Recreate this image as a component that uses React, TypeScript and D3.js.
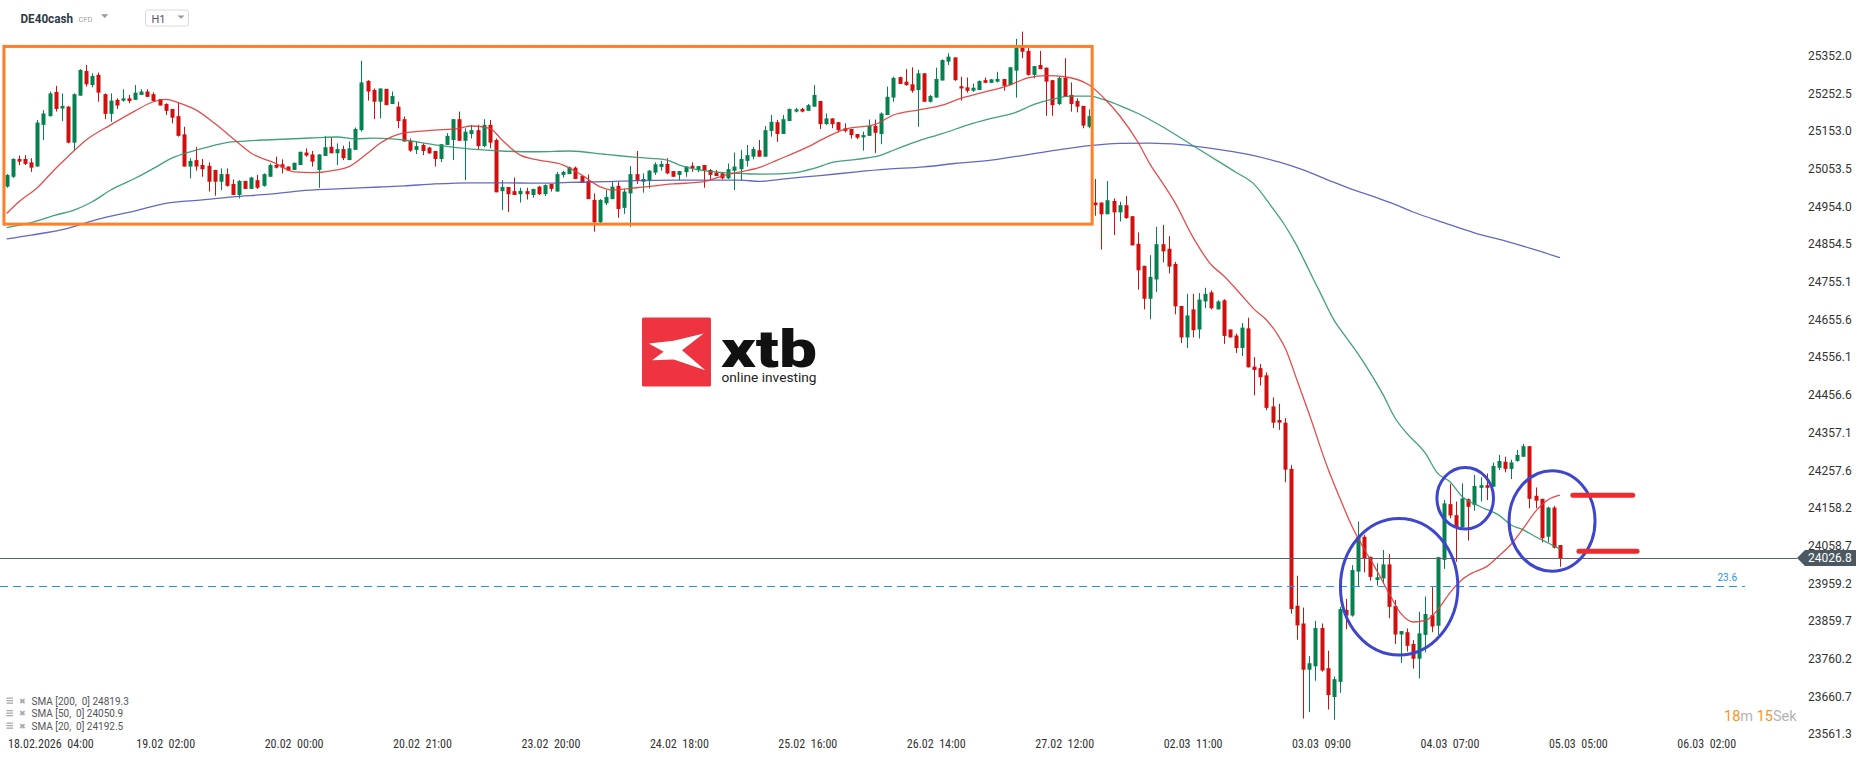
import React from "react";
import * as d3 from "d3";

const W = 1866;
const H = 761;

// ---------- candle data (H1, DE40cash) ----------
const opens = [
  25007,25033,25080,25080,25071,25060,25170,25193,25257,25213,
  25218,25123,25247,25312,25275,25302,25251,25199,25236,25234,
  25240,25236,25249,25258,25251,25238,25225,25212,25193,25145,
  25060,25077,25064,25062,25051,25020,25040,25014,24985,25022,
  25001,25024,25009,25033,25064,25066,25060,25051,25064,25097,
  25092,25051,25088,25112,25095,25106,25077,25104,25156,25286,
  25262,25231,25265,25225,25218,25185,25127,25104,25117,25110,
  25101,25080,25117,25130,25185,25128,25146,25156,25114,25170,
  25130,24995,25006,24995,24987,24995,24985,25007,24987,25014,
  24994,25038,25040,25057,25035,25022,24972,24913,24963,24974,
  25009,24951,24989,25040,25020,25022,25044,25059,25067,25048,
  25038,25045,25062,25051,25064,25051,25044,25042,25029,25049,
  25053,25075,25086,25103,25086,25154,25177,25146,25180,25205,
  25212,25207,25218,25233,25172,25187,25177,25161,25159,25146,
  25137,25141,25167,25146,25196,25242,25296,25284,25277,25262,
  25306,25231,25242,25287,25337,25348,25272,25269,25260,25262,
  25288,25281,25284,25291,25275,25313,25374,25365,25302,25328,
  25321,25288,25225,25294,25249,25233,25220,25165,24965,24965,
  24934,24969,24939,24958,24929,24856,24798,24711,24762,24855,
  24843,24803,24692,24609,24683,24630,24704,24728,24683,24707,
  24630,24614,24581,24633,24532,24528,24509,24427,24391,24384,
  24262,23901,23854,23732,23741,23842,23736,23660,23700,23890,
  23875,23991,24083,24030,23969,23973,24010,23900,23825,23831,
  23800,23761,23824,23876,23848,24022,24169,24140,24108,24182,
  24167,24212,24219,24215,24265,24281,24262,24283,24294,24322,
  24191,24183,24083,24160,24061,
];
const highs = [
  25040,25082,25089,25090,25082,25183,25209,25258,25273,25253,
  25220,25253,25317,25328,25306,25308,25253,25253,25240,25264,
  25249,25275,25264,25264,25256,25238,25227,25212,25229,25165,
  25082,25112,25080,25071,25051,25055,25055,25026,25024,25022,
  25033,25038,25042,25068,25086,25079,25060,25070,25099,25108,
  25101,25092,25141,25137,25121,25115,25126,25163,25339,25288,
  25266,25266,25265,25258,25231,25192,25134,25126,25121,25112,
  25101,25119,25148,25185,25205,25161,25170,25170,25185,25183,
  25134,25024,25006,25031,25004,25004,25001,25009,25013,25014,
  25046,25049,25060,25060,25035,25039,24989,24974,24998,25020,
  25020,25001,25061,25101,25042,25051,25071,25075,25082,25048,
  25048,25061,25071,25061,25064,25053,25051,25046,25068,25097,
  25104,25117,25112,25130,25167,25196,25183,25196,25213,25215,
  25215,25225,25275,25233,25200,25187,25178,25174,25159,25146,
  25152,25184,25184,25203,25271,25297,25297,25317,25322,25315,
  25306,25249,25321,25343,25359,25348,25297,25295,25279,25287,
  25295,25291,25310,25291,25322,25397,25416,25374,25325,25365,
  25321,25288,25297,25346,25282,25240,25220,25211,25027,24965,
  25022,24976,24967,24982,24929,24886,24798,24826,24901,24906,
  24876,24808,24692,24724,24724,24726,24740,24733,24707,24710,
  24630,24619,24647,24661,24557,24539,24517,24451,24434,24396,
  24272,23980,23896,23768,23861,23854,23782,23714,23898,23919,
  24008,24123,24088,24030,24013,24048,24037,23916,23834,23841,
  23810,23885,23925,23951,24030,24180,24222,24176,24224,24184,
  24246,24240,24250,24279,24299,24294,24286,24312,24328,24322,
  24213,24183,24162,24164,24061,
];
const lows = [
  25004,25030,25064,25064,25046,25060,25130,25192,25205,25180,
  25121,25101,25247,25271,25269,25231,25185,25178,25212,25231,
  25227,25236,25249,25243,25231,25221,25196,25174,25139,25060,
  25029,25049,25033,24994,24983,24998,25007,24985,24976,25001,
  25001,25001,25007,25033,25055,25042,25049,25051,25064,25086,
  25060,25004,25088,25095,25064,25077,25077,25104,25152,25234,
  25185,25187,25222,25225,25161,25126,25099,25093,25090,25093,
  25060,25072,25117,25077,25128,25024,25134,25104,25111,25108,
  24992,24945,24940,24985,24965,24973,24978,24985,24982,24994,
  24994,25031,25040,25027,25017,24974,24888,24910,24958,24974,
  24925,24935,24901,25014,24991,25002,25038,25049,25040,25033,
  25024,25033,25046,25045,25004,25026,25035,25026,25027,24998,
  25023,25060,25079,25086,25086,25139,25125,25146,25180,25203,
  25203,25207,25218,25159,25170,25161,25150,25150,25134,25133,
  25102,25141,25096,25119,25196,25231,25278,25273,25255,25165,
  25231,25229,25242,25287,25328,25286,25234,25255,25257,25262,
  25280,25280,25282,25260,25275,25242,25346,25300,25293,25317,
  25194,25194,25222,25244,25205,25203,25161,25161,24930,24841,
  24934,24879,24915,24922,24852,24735,24683,24657,24729,24807,
  24778,24670,24594,24581,24609,24606,24686,24683,24683,24592,
  24609,24568,24560,24530,24456,24482,24417,24370,24365,24227,
  23880,23811,23603,23620,23703,23727,23627,23600,23671,23839,
  23872,23951,23989,23967,23954,23960,23868,23800,23750,23780,
  23735,23709,23778,23831,23824,23998,24132,24017,24105,24073,
  24152,24176,24180,24215,24259,24253,24235,24281,24294,24158,
  24158,24068,24068,24052,24004,
];
const closes = [
  25038,25080,25073,25067,25057,25176,25200,25253,25212,25220,
  25123,25251,25315,25277,25299,25255,25199,25234,25221,25240,
  25233,25255,25258,25244,25233,25221,25207,25189,25141,25060,
  25075,25060,25053,25020,25020,25040,25009,24985,25022,25001,
  25031,25004,25040,25064,25057,25057,25049,25070,25099,25089,
  25073,25092,25111,25095,25106,25082,25108,25159,25282,25258,
  25231,25266,25222,25246,25180,25126,25102,25114,25101,25095,
  25080,25119,25141,25185,25128,25152,25156,25114,25170,25123,
  24992,25006,24987,24985,24996,24987,25001,24987,25011,25001,
  25040,25046,25058,25027,25017,24974,24913,24972,24980,25007,
  24948,24994,25040,25022,25027,25049,25066,25067,25042,25033,
  25048,25060,25055,25061,25049,25038,25035,25029,25053,25060,
  25080,25090,25106,25086,25156,25178,25146,25185,25212,25211,
  25205,25222,25249,25172,25187,25172,25156,25154,25143,25136,
  25143,25167,25149,25200,25244,25294,25278,25275,25260,25306,
  25231,25246,25291,25341,25350,25288,25266,25260,25268,25286,
  25281,25290,25291,25273,25322,25374,25363,25302,25325,25317,
  25284,25222,25294,25244,25225,25218,25168,25193,24958,24934,
  24971,24939,24958,24924,24852,24786,24711,24769,24855,24836,
  24796,24691,24609,24667,24628,24709,24724,24686,24704,24613,
  24609,24581,24635,24530,24523,24504,24423,24384,24384,24260,
  23892,23849,23732,23749,23842,23730,23665,23707,23892,23875,
  23995,24083,24024,23977,23976,24010,23898,23825,23834,23795,
  23761,23828,23879,23846,24029,24171,24139,24108,24184,24162,
  24217,24219,24212,24270,24283,24262,24279,24299,24322,24183,
  24178,24079,24160,24054,24026.8,
];

// ---------- moving averages ----------
const sma20Idx = [1,3,6,9,11,14,18,22,25,27,29,32,35,38,41,45,48,51,55,57,60,62,64,66,71,75,77,80,82,85,88,92,95,98,100,104,110,115,118,121,124,127,132,135,138,143,146,150,154,157,160,165,168,171,174,178,181,183,186,188,190,192,195,198,200,203,205,207,209,210,212,214,217,219,221,223,225,227,229,231,233,235,237,239,241,243,245,247,249,251,253,255];
const sma20Val = [24936,24967,25004,25055,25086,25130,25170,25207,25231,25237,25229,25209,25174,25134,25095,25068,25046,25044,25051,25060,25095,25121,25139,25149,25156,25161,25167,25161,25130,25090,25077,25064,25038,25007,24998,25004,25014,25020,25035,25046,25057,25077,25112,25137,25158,25171,25196,25209,25222,25240,25253,25275,25294,25300,25297,25275,25231,25194,25124,25065,25017,24966,24873,24800,24772,24719,24683,24655,24612,24583,24496,24406,24265,24185,24110,24050,23995,23935,23880,23858,23862,23890,23935,23970,23990,24004,24032,24063,24105,24150,24180,24192.5];

const sma50Idx = [1,5,9,12,15,18,22,25,28,31,34,37,40,43,46,49,53,55,58,61,64,66,71,77,82,88,93,99,104,109,111,115,118,122,125,130,133,136,140,144,146,150,154,159,162,166,169,172,175,178,181,183,186,190,195,199,202,205,208,210,212,214,216,218,220,222,224,226,228,230,233,235,237,239,242,245,247,249,251,253,255];
const sma50Val = [24899,24912,24932,24945,24967,24998,25029,25055,25082,25099,25112,25123,25127,25130,25132,25134,25137,25138,25133,25135,25133,25130,25117,25106,25101,25099,25101,25092,25084,25077,25064,25049,25044,25041,25040,25044,25055,25071,25079,25090,25103,25127,25147,25174,25187,25203,25224,25238,25246,25246,25233,25221,25200,25165,25115,25075,25045,25013,24950,24905,24850,24785,24720,24656,24610,24565,24515,24460,24397,24355,24303,24250,24228,24189,24162,24140,24114,24101,24083,24067,24050.9];

const sma200Idx = [1,5,11,16,22,27,33,38,44,49,55,62,66,71,77,82,88,93,99,104,110,115,121,124,129,134,140,145,151,156,162,167,173,178,183,188,193,198,204,209,213,217,221,225,228,231,236,241,246,251,255];
const sma200Val = [24869,24879,24897,24921,24943,24963,24972,24980,24987,24996,25001,25006,25009,25014,25017,25017,25016,25018,25020,25023,25024,25024,25024,25021,25029,25036,25046,25053,25059,25068,25077,25089,25104,25115,25121,25122,25118,25108,25092,25072,25051,25025,25000,24978,24960,24940,24912,24885,24864,24840,24819.3];

// ---------- axes ----------
const yTicks = [25352.0,25252.5,25153.0,25053.5,24954.0,24854.5,24755.1,24655.6,24556.1,24456.6,24357.1,24257.6,24158.2,24058.7,23959.2,23859.7,23760.2,23660.7,23561.3];
const xLabels = ["18.02.2026  04:00","19.02  02:00","20.02  00:00","20.02  21:00","23.02  20:00","24.02  18:00","25.02  16:00","26.02  14:00","27.02  12:00","02.03  11:00","03.03  09:00","04.03  07:00","05.03  05:00","06.03  02:00"];
const xLabelIdx = [6,27,48,69,90,111,132,153,174,195,216,237,258,279];

// ---------- annotations ----------
const lastPrice = 24026.8;
const fibLevel = 23954;
const fibLabel = "23.6";
const rangeBoxIdx = [0.55, 178.5];
const rangeBoxPrice = [25377, 24908];
const circleIdx = [228.7, 239.5, 253.7];
const circlePrice = [23951, 24184.5, 24124.6];
const circleRadIdx = [9.6, 4.63, 7.03];
const circleRadPrice = [180, 81, 132.5];
const levelPrices = [24192.5, 24045];
const levelIdxFrom = [257.1, 258.1];
const levelIdxTo = [266.9, 267.6];
const legendRows = [
  { name: "SMA [200,  0]", value: "24819.3" },
  { name: "SMA [50,  0]", value: "24050.9" },
  { name: "SMA [20,  0]", value: "24192.5" },
];

const BULL = "#05804f";
const BEAR = "#d20f0f";
const FONT = "Roboto, 'Noto Sans', sans-serif";

export default function App() {
  const x = d3.scaleLinear().domain([1, 255]).range([6.7, 1560]);
  const y = d3.scaleLinear().domain([25352, 23561.3]).range([55.9, 734.4]);
  const pxPerIdx = x(2) - x(1);
  const pxPerPt = Math.abs(y(0) - y(1));

  const line = d3
    .line<[number, number]>()
    .x((d) => x(d[0]))
    .y((d) => y(d[1]))
    .curve(d3.curveMonotoneX);

  const s20 = line(sma20Idx.map((d, i) => [d, sma20Val[i]]) as [number, number][]) || "";
  const s50 = line(sma50Idx.map((d, i) => [d, sma50Val[i]]) as [number, number][]) || "";
  const s200 = line(sma200Idx.map((d, i) => [d, sma200Val[i]]) as [number, number][]) || "";

  const candles = opens.map((o, i) => ({ i: i + 1, o, h: highs[i], l: lows[i], c: closes[i] }));
  const bodyW = 4;
  const yLast = y(lastPrice);

  return (
    <svg
      width={W}
      height={H}
      viewBox={`0 0 ${W} ${H}`}
      style={{ position: "absolute", left: 0, top: 0, display: "block", background: "#fff" }}
      fontFamily={FONT}
    >
      <rect x={0} y={0} width={W} height={H} fill="#fff" />

      {/* header */}
      <text x={20.5} y={23} fontSize={12} fontWeight={700} fill="#2c3a48" textLength={52.5} lengthAdjust="spacingAndGlyphs">DE40cash</text>
      <text x={78.5} y={22} fontSize={7.5} fill="#9aa1a8">CFD</text>
      <path d="M101,14.2 L108.5,14.2 L104.75,18 Z" fill="#9a9a9a" />
      <rect x={145.5} y={10} width={43} height={16} rx={2} fill="#fff" stroke="#d9d9d9" />
      <text x={151.5} y={22.5} fontSize={11} fill="#556">H1</text>
      <path d="M177.5,15.5 L184.5,15.5 L181,18.8 Z" fill="#9a9a9a" />

      {/* xtb watermark */}
      <g>
        <rect x={642} y={317.5} width={69} height={69} rx={1.5} fill="#ef3441" />
        <polygon
          points={[[6.7,26],[31.7,23.3],[61.7,16],[40,32.7],[63.3,52.7],[31.7,42],[10,42.7],[21.7,34.3]]
            .map((p) => `${642 + p[0]},${317.5 + p[1]}`)
            .join(" ")}
          fill="#fff"
        />
        <text x={721} y={366.5} fontSize={52} fontWeight={900} fill="#111" textLength={96} lengthAdjust="spacingAndGlyphs">xtb</text>
        <text x={721.5} y={381.5} fontSize={13.5} fill="#222" textLength={95} lengthAdjust="spacingAndGlyphs">online investing</text>
      </g>

      {/* candles */}
      <g>
        {candles.map((d) => {
          const cx = Math.round(x(d.i)) + 0.5;
          const col = d.c >= d.o ? BULL : BEAR;
          const top = y(Math.max(d.o, d.c));
          const bot = y(Math.min(d.o, d.c));
          return (
            <g key={d.i}>
              <line x1={cx} x2={cx} y1={y(d.h)} y2={y(d.l)} stroke={col} strokeWidth={1} />
              <rect x={cx - bodyW / 2} y={top} width={bodyW} height={Math.max(1, bot - top)} fill={col} />
            </g>
          );
        })}
      </g>

      {/* moving averages */}
      <path d={s200} fill="none" stroke="#5158bd" strokeWidth={1.3} strokeOpacity={0.9} />
      <path d={s50} fill="none" stroke="#2c976c" strokeWidth={1.3} strokeOpacity={0.9} />
      <path d={s20} fill="none" stroke="#e23a3a" strokeWidth={1.3} strokeOpacity={0.9} />

      {/* consolidation box */}
      <rect
        x={x(rangeBoxIdx[0])}
        y={y(rangeBoxPrice[0])}
        width={x(rangeBoxIdx[1]) - x(rangeBoxIdx[0])}
        height={y(rangeBoxPrice[1]) - y(rangeBoxPrice[0])}
        fill="none"
        stroke="#ff7f27"
        strokeWidth={3}
      />

      {/* current price line */}
      <line x1={0} x2={1797} y1={Math.round(yLast) + 0.5} y2={Math.round(yLast) + 0.5} stroke="#56616b" strokeWidth={1} />

      {/* fib level */}
      <line x1={0} x2={1745} y1={Math.round(y(fibLevel)) + 0.5} y2={Math.round(y(fibLevel)) + 0.5} stroke="#1e90ff" strokeWidth={1} strokeDasharray="8 5" />
      <text x={1737} y={y(fibLevel) - 5} fontSize={10} fill="#1e90ff" textAnchor="end">{fibLabel}</text>

      {/* circles */}
      {circleIdx.map((ci, k) => (
        <ellipse
          key={k}
          cx={x(ci)}
          cy={y(circlePrice[k])}
          rx={circleRadIdx[k] * pxPerIdx}
          ry={circleRadPrice[k] * pxPerPt}
          fill="none"
          stroke="#3d46cc"
          strokeWidth={3}
        />
      ))}

      {/* level marks */}
      {levelPrices.map((p, k) => (
        <line
          key={k}
          x1={x(levelIdxFrom[k])}
          x2={x(levelIdxTo[k])}
          y1={y(p)}
          y2={y(p)}
          stroke="#ee2a2d"
          strokeWidth={5}
          strokeLinecap="round"
        />
      ))}

      {/* y axis labels */}
      {yTicks.map((t) => (
        <text key={t} x={1808} y={y(t)} fontSize={12} fill="#333" dominantBaseline="central">
          {t.toFixed(1)}
        </text>
      ))}

      {/* last price tag */}
      <path
        d={`M1797,${yLast} L1805,${yLast - 8} L1856,${yLast - 8} L1856,${yLast + 8} L1805,${yLast + 8} Z`}
        fill="#4b5862"
      />
      <text x={1808} y={yLast} fontSize={12} fill="#fff" dominantBaseline="central">{lastPrice.toFixed(1)}</text>

      {/* x axis labels */}
      {xLabels.map((lab, k) => {
        const first = k === 0;
        return (
          <text
            key={lab}
            x={first ? 8 : x(xLabelIdx[k])}
            y={744}
            fontSize={12}
            fill="#333"
            textAnchor={first ? "start" : "middle"}
            dominantBaseline="central"
            style={{ whiteSpace: "pre", fontFamily: "'Liberation Sans Narrow', 'Roboto Condensed', Roboto, sans-serif" }}
          >
            {lab}
          </text>
        );
      })}

      {/* legend */}
      {legendRows.map((r, k) => {
        const cy = 701 + k * 12.5;
        return (
          <g key={r.name}>
            <rect x={6.5} y={cy - 3.5} width={6.5} height={1.3} fill="#a9a9a9" />
            <rect x={6.5} y={cy - 1} width={6.5} height={1.3} fill="#a9a9a9" />
            <rect x={6.5} y={cy + 1.5} width={6.5} height={1.3} fill="#a9a9a9" />
            <text x={19} y={cy} fontSize={8} fill="#a9a9a9" dominantBaseline="central" fontFamily="DejaVu Sans">✖</text>
            <text x={31.5} y={cy} fontSize={10} fill="#555" dominantBaseline="central" style={{ whiteSpace: "pre" }}>
              {r.name} {r.value}
            </text>
          </g>
        );
      })}

      {/* countdown */}
      <text x={1724} y={720.5} fontSize={14.5}>
        <tspan fill="#f7941d">18</tspan>
        <tspan fill="#b3b3b3">m </tspan>
        <tspan fill="#f7941d">15</tspan>
        <tspan fill="#b3b3b3">Sek</tspan>
      </text>
    </svg>
  );
}
